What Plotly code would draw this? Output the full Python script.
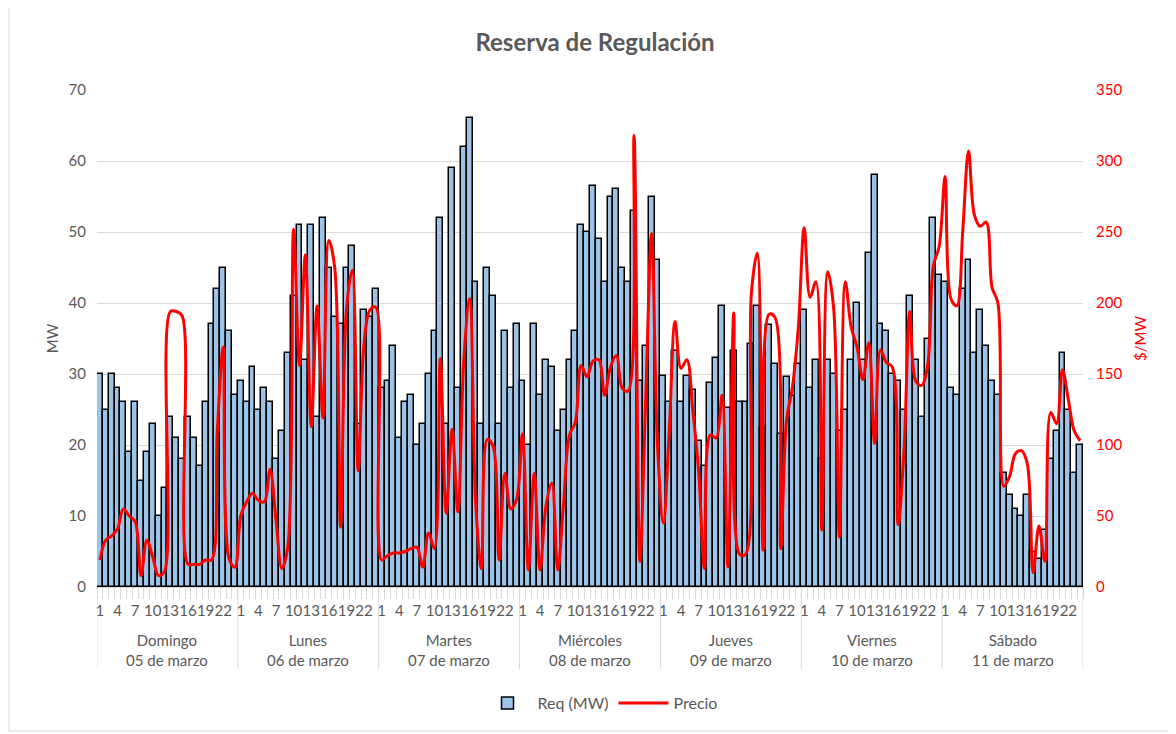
import plotly.graph_objects as go

days = ["Domingo", "Lunes", "Martes", "Miércoles", "Jueves", "Viernes", "Sábado"]
dates = ["05 de marzo", "06 de marzo", "07 de marzo", "08 de marzo",
         "09 de marzo", "10 de marzo", "11 de marzo"]
hours = list(range(1, 25))

req_dom = [30, 25, 30, 28, 26, 19, 26, 15, 19, 23, 10, 14, 24, 21, 18, 24, 21, 17, 26, 37, 42, 45, 36, 27]
req_lun = [29, 26, 31, 25, 28, 26, 18, 22, 33, 41, 51, 32, 51, 24, 52, 45, 38, 37, 45, 48, 23, 39, 38, 42]
req_mar = [28, 29, 34, 21, 26, 27, 20, 23, 30, 36, 52, 23, 59, 28, 62, 66, 43, 23, 45, 41, 23, 36, 28, 37]
req_mie = [29, 20, 37, 27, 32, 31, 22, 25, 32, 36, 51, 50, 56.5, 49, 43, 55, 56, 45, 43, 53, 29, 34, 55, 46]
req_jue = [29.7, 26, 33.3, 26, 29.7, 27.8, 20.6, 17, 28.7, 32.3, 39.6, 25.2, 33.3, 26, 26, 34.2, 39.6, 22.4, 36.9, 31.4, 21.5, 29.6, 26.9, 31.4]
req_vie = [39, 28, 32, 18, 32, 30, 22, 25, 32, 40, 32, 47, 58, 37, 36, 30, 29, 25, 41, 32, 24, 35, 52, 44]
req_sab = [43, 28, 27, 42, 46, 33, 39, 34, 29, 27, 16, 13, 11, 10, 13, 5, 4, 8, 18, 22, 33, 25, 16, 20]

precio_dom = [19, 33, 36, 41, 55, 50, 46, 8, 33, 21, 8, 11, 194, 194, 191, 16, 16, 16, 19, 19, 110, 169, 20, 14]
precio_lun = [50, 60, 66, 61, 60, 83, 47, 13, 28, 252, 156, 234, 113, 198, 119, 244, 225, 42, 195, 223, 82, 171, 195, 197]
precio_mar = [19, 22, 24, 24, 25, 27, 28, 14, 38, 27, 161, 52, 111, 53, 160, 203, 61, 13, 104, 99, 19, 80, 55, 62]
precio_mie = [108, 12, 80, 12, 57, 73, 12, 59, 107, 116, 156, 148, 159, 160, 135, 155, 163, 140, 138, 318, 18, 134, 249, 100]
precio_jue = [45, 110, 187, 154, 160, 125, 82, 13, 107, 105, 135, 14, 193, 23, 23, 207, 235, 26, 192, 190, 27, 118, 141, 183]
precio_vie = [253, 204, 215, 40, 222, 197, 35, 215, 183, 169, 146, 172, 101, 167, 158, 155, 44, 96, 194, 145, 142, 155, 226, 240]
precio_sab = [289, 203, 198, 250, 307, 262, 254, 257, 211, 200, 71, 78, 94, 96, 87, 10, 43, 18, 123, 115, 153, 132, 110, 103]

req = req_dom + req_lun + req_mar + req_mie + req_jue + req_vie + req_sab
precio = precio_dom + precio_lun + precio_mar + precio_mie + precio_jue + precio_vie + precio_sab
n = len(req)
xs = list(range(n))
nd = len(days)
per = len(hours)

GRAY = "#595959"
LIGHT = "#d9d9d9"
FONT = "Lato"

# page offset (body margin) compensation
OFF = 8
W, H = 1168, 726
L, T, R, B = 89, 82, 93, 147
PW, PH = W - L - R, H - T - B


def px_x(px):
    return (px - OFF - L) / PW


def px_y(py):
    return 1 - (py - OFF - T) / PH


fig = go.Figure()
fig.add_trace(go.Bar(
    x=xs, y=req, name="Req (MW)", yaxis="y",
    marker=dict(color="#9DC3E6", line=dict(color="black", width=1.5)),
))
fig.add_trace(go.Scatter(
    x=xs, y=precio, name="Precio", yaxis="y2", mode="lines",
    line=dict(color="#FF0000", width=3, shape="spline", smoothing=1),
))

tickvals = [d * per + h - 1 for d in range(nd) for h in hours if (h - 1) % 3 == 0]
ticktext = [str(h) for d in range(nd) for h in hours if (h - 1) % 3 == 0]

shapes = []
for b in range(nd + 1):
    shapes.append(dict(type="line", xref="x", yref="paper",
                       x0=b * per - 0.5, x1=b * per - 0.5, y0=0, y1=px_y(669),
                       line=dict(color=LIGHT, width=1)))
shapes.append(dict(type="rect", xref="paper", yref="paper",
                   x0=px_x(9), x1=px_x(1170), y0=px_y(731), y1=px_y(-10),
                   line=dict(color=LIGHT, width=1), fillcolor="rgba(0,0,0,0)"))

annotations = []
for d in range(nd):
    annotations.append(dict(
        x=d * per + (per - 1) / 2, xref="x", y=px_y(650), yref="paper",
        text=f"{days[d]}<br>{dates[d]}", showarrow=False,
        font=dict(size=15, color=GRAY, family=FONT), align="center",
        yanchor="middle"))

fig.update_layout(
    width=W, height=H, autosize=False,
    margin=dict(l=L, r=R, t=T, b=B),
    paper_bgcolor="white", plot_bgcolor="white",
    font=dict(family=FONT, color=GRAY, size=15),
    title=dict(text="<b>Reserva de Regulación</b>", x=(595 - OFF) / W, xanchor="center",
               y=1 - (43 - OFF) / H, yanchor="middle",
               font=dict(size=24, color=GRAY, family=FONT)),
    bargap=0,
    xaxis=dict(range=[-0.5, n - 0.5], tickmode="array", tickvals=tickvals, ticktext=ticktext,
               tickangle=0, tickfont=dict(size=15, color=GRAY),
               ticks="outside", ticklen=10, tickcolor="rgba(0,0,0,0)",
               minor=dict(tickmode="linear", tick0=-0.5, dtick=1, ticks="outside",
                          ticklen=11, tickcolor=LIGHT, showgrid=False),
               showgrid=False, zeroline=False, showline=True, linecolor=LIGHT),
    yaxis=dict(range=[0, 70], dtick=10, gridcolor=LIGHT, zeroline=False, showline=False,
               tickfont=dict(size=15, color=GRAY), ticklabelstandoff=10,
               title=dict(text="MW", font=dict(size=15, color=GRAY), standoff=6)),
    yaxis2=dict(range=[0, 350], dtick=50, overlaying="y", side="right", showgrid=False,
                zeroline=False, showline=False,
                tickfont=dict(size=15, color="#FF0000"), ticklabelstandoff=12,
                title=dict(text="$/MW", font=dict(size=15, color="#FF0000"), standoff=14)),
    legend=dict(orientation="h", x=px_x(600), xanchor="center", y=px_y(703), yanchor="middle",
                font=dict(size=16, color=GRAY), traceorder="normal", itemwidth=50),
    shapes=shapes, annotations=annotations,
)

fig.write_html("out.html")
